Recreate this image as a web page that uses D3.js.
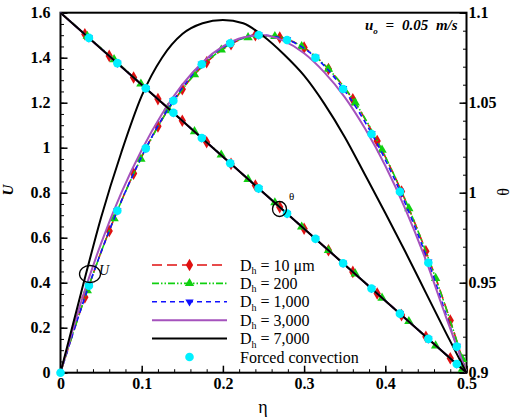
<!DOCTYPE html>
<html>
<head>
<meta charset="utf-8">
<script src="https://cdn.jsdelivr.net/npm/d3@7"></script>
<style>
  body { margin: 0; background: #fff; }
  .axis path, .minor path { display: none; }
  .axis line { stroke: #000; stroke-width: 1.5; }
  .minor line { stroke: #000; stroke-width: 1; }
</style>
</head>
<body>
<svg width="516" height="420"></svg>
<script>
// tick values and labels
const xTicks = [0, 0.1, 0.2, 0.3, 0.4, 0.5];
const xTickLabels = ['0', '0.1', '0.2', '0.3', '0.4', '0.5'];
const uTicks = [0, 0.2, 0.4, 0.6, 0.8, 1, 1.2, 1.4, 1.6];
const uTickLabels = ['0', '0.2', '0.4', '0.6', '0.8', '1', '1.2', '1.4', '1.6'];
const thTicks = [0.9, 0.95, 1, 1.05, 1.1];
const thTickLabels = ['0.9', '0.95', '1', '1.05', '1.1'];

// D_h = 10 um
const etaD10 = [0, 0.03, 0.06, 0.09, 0.12, 0.15, 0.18, 0.21, 0.24, 0.27, 0.30, 0.33, 0.36, 0.39, 0.42, 0.45, 0.48, 0.5];
const uD10 = [0, 0.335, 0.63, 0.885, 1.095, 1.26, 1.38, 1.46, 1.50, 1.49, 1.445, 1.35, 1.215, 1.03, 0.805, 0.54, 0.232, 0];
const thD10 = [1.1, 1.088, 1.076, 1.064, 1.052, 1.04, 1.028, 1.016, 1.004, 0.992, 0.98, 0.968, 0.956, 0.944, 0.932, 0.92, 0.908, 0.9];

// D_h = 200
const etaD200 = [0, 0.033, 0.066, 0.099, 0.132, 0.165, 0.198, 0.231, 0.264, 0.297, 0.33, 0.363, 0.396, 0.429, 0.462, 0.495, 0.5];
const uD200 = [0, 0.365, 0.685, 0.95, 1.165, 1.325, 1.435, 1.49, 1.495, 1.45, 1.35, 1.2, 0.99, 0.73, 0.42, 0.06, 0];
const thD200 = [1.1, 1.087, 1.074, 1.0605, 1.047, 1.034, 1.021, 1.0075, 0.9945, 0.981, 0.968, 0.955, 0.9415, 0.9285, 0.915, 0.902, 0.9];

// D_h = 1,000
const etaD1000 = [0, 0.035, 0.07, 0.105, 0.139, 0.174, 0.209, 0.244, 0.279, 0.314, 0.348, 0.383, 0.418, 0.453, 0.488, 0.5];
const uD1000 = [0, 0.387, 0.72, 0.997, 1.209, 1.371, 1.464, 1.501, 1.48, 1.402, 1.263, 1.064, 0.807, 0.492, 0.118, 0];
const thD1000 = [1.1, 1.086, 1.072, 1.058, 1.0444, 1.0304, 1.0164, 1.0024, 0.9884, 0.9744, 0.9608, 0.9468, 0.9328, 0.9188, 0.9048, 0.9];

// D_h = 3,000
const etaD3000 = [0, 0.025, 0.05, 0.075, 0.1, 0.125, 0.15, 0.175, 0.2, 0.225, 0.25, 0.275, 0.3, 0.325, 0.35, 0.375, 0.4, 0.425, 0.45, 0.475, 0.5];
const uD3000 = [0, 0.31, 0.575, 0.80, 0.99, 1.15, 1.28, 1.38, 1.45, 1.49, 1.50, 1.475, 1.42, 1.335, 1.225, 1.085, 0.92, 0.725, 0.50, 0.245, 0];
const thD3000 = [1.1, 1.09, 1.08, 1.07, 1.06, 1.05, 1.04, 1.03, 1.02, 1.01, 1.0, 0.99, 0.98, 0.97, 0.96, 0.95, 0.94, 0.93, 0.92, 0.91, 0.9];

// D_h = 7,000
const etaD7000 = [0, 0.025, 0.05, 0.075, 0.1, 0.125, 0.15, 0.175, 0.2, 0.225, 0.25, 0.275, 0.3, 0.325, 0.35, 0.375, 0.4, 0.425, 0.45, 0.475, 0.5];
const uD7000 = [0, 0.35, 0.69, 0.98, 1.23, 1.40, 1.505, 1.553, 1.568, 1.553, 1.495, 1.415, 1.32, 1.195, 1.048, 0.88, 0.71, 0.535, 0.355, 0.175, 0];
const thD7000 = [1.1, 1.09, 1.08, 1.07, 1.06, 1.05, 1.04, 1.03, 1.02, 1.01, 1.0, 0.99, 0.98, 0.97, 0.96, 0.95, 0.94, 0.93, 0.92, 0.91, 0.9];

// forced convection (symbols only)
const etaForced = [0, 0.035, 0.07, 0.105, 0.139, 0.174, 0.209, 0.244, 0.279, 0.314, 0.348, 0.383, 0.418, 0.453, 0.488];
const uForced = [0, 0.387, 0.72, 0.997, 1.209, 1.371, 1.464, 1.501, 1.479, 1.40, 1.261, 1.061, 0.804, 0.489, 0.116];
const thForced = [null, 1.086, 1.072, 1.058, 1.0444, 1.0304, 1.0164, 1.0024, 0.9884, 0.9744, 0.9608, 0.9468, 0.9328, 0.9188, 0.9048];

const FONT = '"Liberation Serif", "Times New Roman", "DejaVu Serif", serif';
const plotLeft = 60.5, plotRight = 466.5, plotTop = 12.7, plotBottom = 372.7;

const x = d3.scaleLinear().domain([0, 0.5]).range([plotLeft, plotRight]);
const yU = d3.scaleLinear().domain([0, 1.6]).range([plotBottom, plotTop]);
const yT = d3.scaleLinear().domain([0.9, 1.1]).range([plotBottom, plotTop]);

const svg = d3.select('svg');

const series = [
  {eta: etaD10, u: uD10, th: thD10, color: '#e01010', width: 1.6, dash: '10,5', symbol: 'diamond', label: ' = 10 \u03bcm'},
  {eta: etaD200, u: uD200, th: thD200, color: '#10d010', width: 1.6, dash: '7,2,1.5,2,1.5,2', symbol: 'up', label: ' = 200'},
  {eta: etaD1000, u: uD1000, th: thD1000, color: '#1010ff', width: 1.6, dash: '5,4', symbol: 'down', label: ' = 1,000'},
  {eta: etaD3000, u: uD3000, th: thD3000, color: '#a552bd', width: 2, dash: null, symbol: null, label: ' = 3,000'},
  {eta: etaD7000, u: uD7000, th: thD7000, color: '#000', width: 2, dash: null, symbol: null, label: ' = 7,000'}
];

function symbolPath(kind) {
  if (kind === 'diamond') return d3.symbol(d3.symbolDiamond, 46)();
  if (kind === 'down') return d3.symbol(d3.symbolTriangle, 30)();
  return d3.symbol(d3.symbolTriangle, 38)();
}

function drawMarker(g, kind, color, px, py) {
  return g.append('path')
    .attr('d', symbolPath(kind))
    .attr('fill', color)
    .attr('transform', `translate(${px},${py})` + (kind === 'down' ? ' rotate(180)' : ''));
}

// axes: major and minor ticks pointing inward
svg.append('g').attr('class', 'minor')
  .attr('transform', `translate(${plotLeft},0)`)
  .call(d3.axisLeft(yU).tickValues(d3.range(0, 1.601, 0.05)).tickSize(-3.5).tickFormat(''));
svg.append('g').attr('class', 'axis')
  .attr('transform', `translate(${plotLeft},0)`)
  .call(d3.axisLeft(yU).tickValues(uTicks).tickSize(-7).tickPadding(10)
    .tickFormat((d, i) => uTickLabels[i]));

svg.append('g').attr('class', 'minor')
  .attr('transform', `translate(0,${plotBottom})`)
  .call(d3.axisBottom(x).tickValues(d3.range(0, 0.501, 0.02)).tickSize(-3.5).tickFormat(''));
svg.append('g').attr('class', 'axis')
  .attr('transform', `translate(0,${plotBottom})`)
  .call(d3.axisBottom(x).tickValues(xTicks).tickSize(-7).tickPadding(5)
    .tickFormat((d, i) => xTickLabels[i]));

svg.append('g').attr('class', 'minor')
  .attr('transform', `translate(${plotRight},0)`)
  .call(d3.axisRight(yT).tickValues(d3.range(0.9, 1.1001, 0.01)).tickSize(-3.5).tickFormat(''));
svg.append('g').attr('class', 'axis')
  .attr('transform', `translate(${plotRight},0)`)
  .call(d3.axisRight(yT).tickValues(thTicks).tickSize(-7).tickPadding(2)
    .tickFormat((d, i) => thTickLabels[i]));

svg.selectAll('.axis')
  .attr('font-family', FONT)
  .attr('font-size', 16)
  .attr('font-weight', 'bold');
svg.selectAll('.axis text').attr('fill', '#000');

// plot frame
svg.append('rect')
  .attr('x', plotLeft).attr('y', plotTop)
  .attr('width', plotRight - plotLeft).attr('height', plotBottom - plotTop)
  .attr('fill', 'none').attr('stroke', '#000').attr('stroke-width', 2);

const plot = svg.append('g');

const lineU = d3.line().curve(d3.curveMonotoneX)
  .x(d => x(d[0])).y(d => yU(d[1]));
const lineT = d3.line().curve(d3.curveMonotoneX)
  .x(d => x(d[0])).y(d => yT(d[1]));

series.forEach(function(s) {
  const ptsU = s.eta.map((e, i) => [e, s.u[i]]);
  const ptsT = s.eta.map((e, i) => [e, s.th[i]]);
  [[ptsU, lineU], [ptsT, lineT]].forEach(function(pair) {
    plot.append('path')
      .attr('d', pair[1](pair[0]))
      .attr('fill', 'none')
      .attr('stroke', s.color)
      .attr('stroke-width', s.width)
      .attr('stroke-dasharray', s.dash);
  });
  if (s.symbol) {
    s.eta.forEach(function(e, i) {
      if (i === 0 || i === s.eta.length - 1) return;
      drawMarker(plot, s.symbol, s.color, x(e), yU(s.u[i]));
      drawMarker(plot, s.symbol, s.color, x(e), yT(s.th[i]));
    });
  }
});

// forced convection symbols
const forcedU = etaForced.map((e, i) => [e, uForced[i]]);
const forcedT = etaForced.map((e, i) => [e, thForced[i]]).filter(d => d[1] !== null);
plot.selectAll('.fu').data(forcedU).enter().append('circle')
  .attr('cx', d => x(d[0])).attr('cy', d => yU(d[1])).attr('r', 4.3).attr('fill', '#00f0ff');
plot.selectAll('.ft').data(forcedT).enter().append('circle')
  .attr('cx', d => x(d[0])).attr('cy', d => yT(d[1])).attr('r', 4.3).attr('fill', '#00f0ff');

// legend
const legend = svg.append('g').attr('font-family', FONT);
const rowY = d3.range(6).map(i => 265 + i * 18.4);
series.forEach(function(s, i) {
  legend.append('line')
    .attr('x1', 152).attr('x2', 227).attr('y1', rowY[i]).attr('y2', rowY[i])
    .attr('stroke', s.color).attr('stroke-width', s.width)
    .attr('stroke-dasharray', s.dash);
  if (s.symbol) drawMarker(legend, s.symbol, s.color, 189.5, rowY[i]);
  const t = legend.append('text').attr('x', 240).attr('y', rowY[i] + 5.5)
    .attr('font-size', 16);
  t.append('tspan').text('D');
  t.append('tspan').attr('font-size', 10).attr('dy', 3.5).text('h');
  t.append('tspan').attr('dy', -3.5).text(s.label);
});
legend.append('circle').attr('cx', 189.5).attr('cy', rowY[5]).attr('r', 4.3).attr('fill', '#00f0ff');
legend.append('text').attr('x', 240).attr('y', rowY[5] + 5.5).attr('font-size', 16)
  .text('Forced convection');

// axis titles
const titles = svg.append('g').attr('font-family', FONT);
titles.append('text')
  .attr('transform', 'translate(12.5,190) rotate(-90)')
  .attr('text-anchor', 'middle')
  .attr('font-size', 15).attr('font-weight', 'bold').attr('font-style', 'italic')
  .text('U');
titles.append('text')
  .attr('x', 263).attr('y', 413)
  .attr('text-anchor', 'middle').attr('font-size', 18)
  .text('\u03b7');
titles.append('text')
  .attr('transform', 'translate(509,192) rotate(-90)')
  .attr('text-anchor', 'middle').attr('font-size', 16)
  .text('\u03b8');

// inlet velocity note
const note = titles.append('text')
  .attr('x', 365).attr('y', 30)
  .attr('font-size', 15).attr('word-spacing', 4)
  .attr('font-weight', 'bold').attr('font-style', 'italic');
note.append('tspan').text('u');
note.append('tspan').attr('font-size', 9).attr('dy', 4).text('o');
note.append('tspan').attr('dy', -4).text(' = 0.05 m/s');

// curve callouts
svg.append('ellipse').attr('cx', 90).attr('cy', 274).attr('rx', 10.5).attr('ry', 8.5)
  .attr('fill', 'none').attr('stroke', '#000').attr('stroke-width', 1.3);
titles.append('text').attr('x', 99).attr('y', 275).attr('font-size', 14).attr('font-style', 'italic')
  .text('U');
svg.append('ellipse').attr('cx', 279.5).attr('cy', 209).attr('rx', 7).attr('ry', 7.5)
  .attr('fill', 'none').attr('stroke', '#000').attr('stroke-width', 1.3);
titles.append('text').attr('x', 289).attr('y', 200).attr('font-size', 11)
  .text('\u03b8');
</script>
</body>
</html>
